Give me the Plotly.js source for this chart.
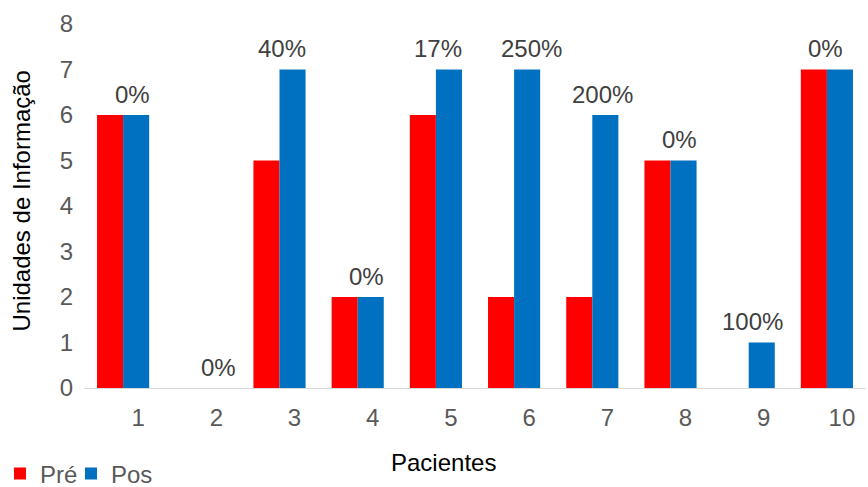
<!DOCTYPE html>
<html>
<head>
<meta charset="utf-8">
<script src="https://cdn.plot.ly/plotly-3.0.1.min.js"></script>
<style>
  html, body { margin: 0; padding: 0; background: #fff; }
  #chart { width: 868px; height: 487px; }
</style>
</head>
<body>
<div id="chart"></div>
<script>
// Patients and information units before (Pré) and after (Pos)
const pacientes = ['1', '2', '3', '4', '5', '6', '7', '8', '9', '10'];
const pre = [6, 0, 5, 2, 6, 2, 2, 5, 0, 7];
const pos = [6, 0, 7, 2, 7, 7, 6, 5, 1, 7];
const variacao = ['0%', '0%', '40%', '0%', '17%', '250%', '200%', '0%', '100%', '0%'];
// horizontal nudge of each change label, in pixels
const labelNudge = [9, 17, 2, 9, 2, 17, 10, 9, 4, -1];

const FONT = 'Liberation Sans, Arial, sans-serif';
const W = 868, H = 487;

const traces = [
  { type: 'bar', name: 'Pré', x: pacientes, y: pre, marker: { color: '#ff0000' }, hoverinfo: 'x+y', legend: 'legend' },
  { type: 'bar', name: 'Pos', x: pacientes, y: pos, marker: { color: '#0070c0' }, hoverinfo: 'x+y', legend: 'legend2' }
];

// change labels sit above the taller bar of each patient (x given as category index)
const annotations = pacientes.map((p, i) => ({
  x: i,
  y: Math.max(pre[i], pos[i]),
  xref: 'x', yref: 'y',
  text: variacao[i],
  showarrow: false,
  yanchor: 'middle',
  yshift: 21,
  xshift: labelNudge[i],
  font: { family: FONT, size: 24, color: '#404040' }
}));

// axis titles
annotations.push({
  text: 'Pacientes',
  xref: 'paper', yref: 'paper',
  x: 0.46, y: 0, yshift: -74,
  xanchor: 'center', yanchor: 'middle',
  showarrow: false,
  font: { family: FONT, size: 24, color: '#000000' }
});
annotations.push({
  text: 'Unidades de Informação',
  xref: 'paper', yref: 'paper',
  x: 0, xshift: -62, y: 0.515,
  xanchor: 'center', yanchor: 'middle',
  textangle: -90,
  showarrow: false,
  font: { family: FONT, size: 24, color: '#000000' }
});

const legendStyle = {
  orientation: 'h',
  xref: 'container', yref: 'container',
  yanchor: 'middle', xanchor: 'left',
  y: 13 / H,
  font: { family: FONT, size: 24, color: '#595959' },
  bgcolor: 'rgba(0,0,0,0)',
  borderwidth: 0
};

const layout = {
  width: W, height: H,
  margin: { l: 84, r: 2, t: 24, b: 99 },
  paper_bgcolor: '#ffffff',
  plot_bgcolor: '#ffffff',
  barmode: 'group',
  bargap: 1 / 3,
  bargroupgap: 0,
  font: { family: FONT, size: 24, color: '#595959' },
  xaxis: {
    type: 'category',
    range: [-0.5, 9.5],
    showgrid: false,
    zeroline: false,
    showline: true,
    linecolor: '#d9d9d9',
    linewidth: 1,
    ticks: '',
    ticklabelshift: 15,
    ticklabelstandoff: 8,
    tickfont: { family: FONT, size: 24, color: '#595959' },
    automargin: false
  },
  yaxis: {
    range: [0, 8],
    dtick: 1,
    showgrid: false,
    zeroline: false,
    showline: false,
    ticks: '',
    ticklabelstandoff: 10,
    tickfont: { family: FONT, size: 24, color: '#595959' },
    automargin: false
  },
  showlegend: true,
  legend: Object.assign({}, legendStyle, { x: -3 / W }),
  legend2: Object.assign({}, legendStyle, { x: 71 / W }),
  annotations: annotations
};

Plotly.newPlot('chart', traces, layout, { displayModeBar: false, staticPlot: true });
</script>
</body>
</html>
